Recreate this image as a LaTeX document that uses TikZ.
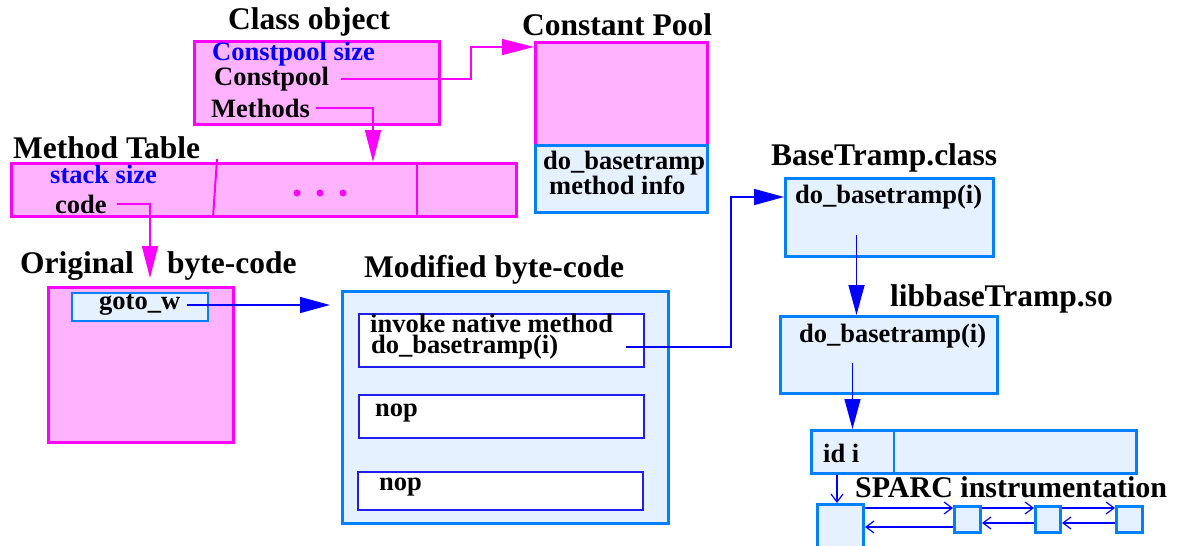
\documentclass[tikz,border=0pt]{standalone}
\usepackage{fontspec}
\setmainfont{Liberation Serif}
\usetikzlibrary{calc,arrows.meta}
\definecolor{pinkfill}{RGB}{255,179,255}
\definecolor{pinkline}{RGB}{255,0,255}
\definecolor{bluefill}{RGB}{230,241,255}
\definecolor{blueline}{RGB}{0,128,255}
\definecolor{opline}{RGB}{30,30,240}
\definecolor{arrowblue}{RGB}{0,0,255}

\begin{document}
\begin{tikzpicture}[x=1pt,y=-1pt,
                    font=\bfseries\fontsize{26.5}{30}\selectfont,
                    every node/.style={inner sep=0pt},
                    title/.style={anchor=west,font=\bfseries\fontsize{31.5}{34}\selectfont},
                    field/.style={anchor=west},
                    pinkbox/.style={draw=pinkline,fill=pinkfill,line width=3pt,anchor=north west},
                    bluebox/.style={draw=blueline,fill=bluefill,line width=3pt,anchor=north west},
                    opbox/.style={draw=opline,fill=white,line width=2pt,anchor=north west},
                    parrow/.style={draw=pinkline,line width=1.5pt,-{Triangle[length=32pt,width=16pt]}},
                    barrow/.style={draw=arrowblue,line width=1.5pt,-{Triangle[length=30pt,width=16pt]}},
                    sarrow/.style={draw=arrowblue,line width=1.2pt,-{Straight Barb[length=8pt,width=12pt]}}]
\useasboundingbox (0,0) rectangle (1192,546);
%
% class object and constant pool
\node[title] (cobjtitle) at (228,22) {Class object};
\node[pinkbox,minimum width=245pt,minimum height=83pt] (cobj) at (193,40) {};
\node[field,text=blue] (cpsz) at (212,54) {Constpool size};
\node[field] (cpt) at (214,79) {Constpool};
\node[field] (mth) at (211,108) {Methods};
%
\node[title] (cpooltitle) at (522,25) {Constant Pool};
\node[pinkbox,minimum width=172pt,minimum height=103pt] (cpool) at (534,41) {};
\node[bluebox,minimum width=172pt,minimum height=67pt] (cpinfo) at (534,144) {};
\node[field] (cpdo) at (543,163) {do\_basetramp};
\node[field] (cpmi) at (549,185) {method info};
%
% method table
\node[title] (mtabtitle) at (13,148) {Method Table};
\node[pinkbox,minimum width=505pt,minimum height=53pt] (mtab) at (10,162) {};
\draw[pinkline,line width=2pt] ($(mtab.north west)+(207,-3)$) -- ($(mtab.south west)+(203,0)$);
\draw[pinkline,line width=2pt] ($(mtab.north west)+(407,0)$) -- ($(mtab.south west)+(407,0)$);
\node[field,text=blue] (stk) at (50,174) {stack size};
\node[field] (code) at (55,204) {code};
\foreach \x in {297,320,343}
  \fill[pinkline] (\x,193) circle (3.5pt);
%
% original byte-code
\node[title] (origtitle) at (20,266) {Original};
\node[title] (bctitle) at (167,266) {byte-code};
\node[pinkbox,minimum width=185pt,minimum height=155pt] (orig) at (47,286) {};
\node[bluebox,line width=1.5pt,minimum width=136pt,minimum height=28pt] (goto) at (71,292) {};
\node[field] (gotot) at (99,305) {goto\_w};
%
% modified byte-code
\node[title] (modtitle) at (364,270) {Modified byte-code};
\node[bluebox,minimum width=326pt,minimum height=232pt] (mod) at (341,290) {};
\node[opbox,minimum width=285pt,minimum height=53pt] (op1) at (358,313) {};
\node[opbox,minimum width=285pt,minimum height=43pt] (op2) at (358,394) {};
\node[opbox,minimum width=285pt,minimum height=38pt] (op3) at (357,471) {};
\node[field] (inv) at (370,323) {invoke native method};
\node[field] (dbt) at (371,347) {do\_basetramp(i)};
\node[field] (nop1) at (375,413) {nop};
\node[field] (nop2) at (379,487) {nop};
%
% trampolines
\node[title] (bttitle) at (771,158) {BaseTramp.class};
\node[bluebox,minimum width=208pt,minimum height=78pt] (bt) at (784,177) {};
\node[field] (btdo) at (795,197) {do\_basetramp(i)};
\node[title] (libtitle) at (890,299) {libbaseTramp.so};
\node[bluebox,minimum width=217pt,minimum height=77pt] (lib) at (779,315) {};
\node[field] (libdo) at (799,336) {do\_basetramp(i)};
%
% SPARC instrumentation
\node[bluebox,minimum width=325pt,minimum height=43pt] (idbox) at (810,429) {};
\draw[blueline,line width=2pt] ($(idbox.north west)+(84,0)$) -- ($(idbox.south west)+(84,0)$);
\node[field] (idt) at (823,453) {id i};
\node[title,font=\bfseries\fontsize{30}{33}\selectfont] (sparctitle) at (855,487) {SPARC instrumentation};
\node[bluebox,minimum width=46pt,minimum height=60pt] (sparc) at (816,503) {};
\node[bluebox,minimum width=26pt,minimum height=26pt] (s1) at (953,505) {};
\node[bluebox,minimum width=25pt,minimum height=26pt] (s2) at (1034,505) {};
\node[bluebox,minimum width=26pt,minimum height=26pt] (s3) at (1115,505) {};
%
% connectors
\draw[parrow] ([xshift=12pt]cpt.east) -| (471,47) -- (cpool.west |- 471,47);
\draw[parrow] ([xshift=6pt]mth.east) -| (mtab.north -| 373,0);
\coordinate (otip) at (150,278);
\draw[parrow] ([xshift=10pt]code.east) -| (otip);
\draw[barrow] ([xshift=7pt]gotot.east) -- ($(mod.west |- gotot)+(-11,0)$);
\draw[barrow] ($(op1.east |- dbt)+(-19,0)$) -| (731,197) -- (bt.west |- 731,197);
\coordinate (btout) at ($(bt.south)+(-33,-23)$);
\draw[barrow] (btout) -- (btout |- lib.north);
\coordinate (libout) at ($(lib.south)+(-36.5,-32)$);
\draw[barrow] (libout) -- (libout |- idbox.north);
\draw[sarrow] ([xshift=27pt]idbox.south west) -- ([xshift=21pt]sparc.north west);
\foreach \a/\b in {sparc/s1,s1/s2,s2/s3}
  \draw[sarrow] (\a.east |- 0,508) -- (\b.west |- 0,508);
\draw[sarrow] (s1.west |- 0,527) -- (sparc.east |- 0,527);
\foreach \a/\b in {s1/s2,s2/s3}
  \draw[sarrow] (\b.west |- 0,523) -- (\a.east |- 0,523);
\end{tikzpicture}
\end{document}
